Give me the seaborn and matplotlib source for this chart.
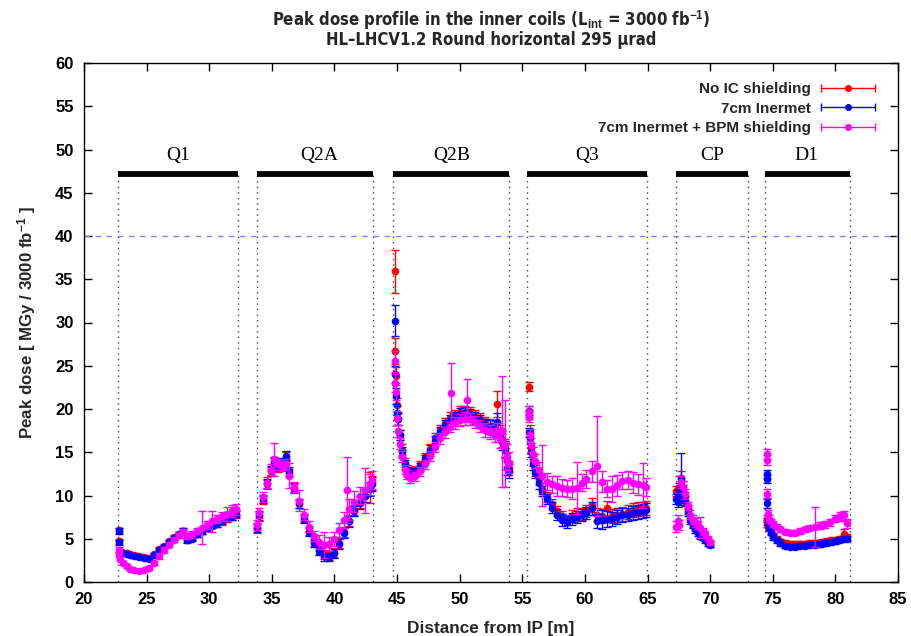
import numpy as np
import pandas as pd
import matplotlib
matplotlib.use("Agg")
import matplotlib.pyplot as plt
import seaborn as sns
from matplotlib import font_manager as fm
from matplotlib.container import ErrorbarContainer
from matplotlib.legend_handler import HandlerErrorbar

nan = np.nan

# ---------------- data ----------------
series_names = ["No IC shielding", "7cm Inermet", "7cm Inermet + BPM shielding"]
series_colors = ["#ff0000", "#0000ff", "#ff00ff"]

magnet_names = ["Q1", "Q2A", "Q2B", "Q3", "CP", "D1"]
magnet_start = [22.75, 33.8, 44.7, 55.4, 67.3, 74.4]
magnet_end = [32.3, 43.05, 53.9, 64.95, 73.0, 81.15]
magnet_label_x = [27.5, 38.8, 49.4, 60.2, 70.2, 77.7]

# Q1
x_q1 = [22.8, 22.8, 22.9, 23.1, 23.4, 23.7, 24.0, 24.4, 24.8, 25.2, 25.6, 26.0, 26.4, 26.8,
        27.2, 27.6, 27.9, 28.2, 28.6, 29.0, 29.4, 29.8, 30.2, 30.6, 31.0, 31.4, 31.8, 32.1]
red_q1 = [6.0, 4.7, 3.6, 3.4, 3.3, 3.2, 3.1, 3.0, 2.9, 2.8, 3.2, 3.8, 4.2, 4.7,
          5.2, 5.6, 5.9, 4.9, 5.1, 5.5, 5.9, 6.2, 6.5, 6.8, 7.0, 7.3, 7.6, 7.8]
blue_q1 = [5.9, 4.6, 3.5, 3.3, 3.2, 3.1, 3.0, 2.9, 2.8, 2.7, 3.1, 3.7, 4.1, 4.6,
           5.1, 5.6, 5.9, 4.8, 5.0, 5.5, 5.9, 6.2, 6.5, 6.8, 7.1, 7.4, 7.6, 7.9]
mag_q1 = [3.7, 3.2, 2.7, 2.2, 1.8, 1.5, 1.35, 1.3, 1.35, 1.6, 2.2, 3.0, 3.7, 4.3,
          4.9, 5.4, 5.8, 5.3, 5.5, 5.9, 6.3, 6.6, 7.0, 7.3, 7.6, 7.9, 8.2, 8.4]
red_e_q1 = [0.3, 0.3, 0.2, 0.2, 0.2, 0.2, 0.2, 0.2, 0.2, 0.2, 0.2, 0.2, 0.2, 0.2,
            0.2, 0.2, 0.3, 0.3, 0.3, 0.3, 0.3, 0.3, 0.3, 0.4, 0.4, 0.4, 0.4, 0.4]
blue_e_q1 = [0.3, 0.3, 0.2, 0.2, 0.2, 0.2, 0.2, 0.2, 0.2, 0.2, 0.2, 0.2, 0.2, 0.2,
             0.2, 0.2, 0.3, 0.3, 0.3, 0.3, 0.3, 0.3, 0.3, 0.4, 0.4, 0.4, 0.4, 0.4]
mag_e_q1 = [0.3, 0.3, 0.3, 0.2, 0.2, 0.2, 0.2, 0.2, 0.2, 0.2, 0.2, 0.3, 0.3, 0.3,
            0.3, 0.3, 0.3, 0.3, 0.4, 0.4, 1.9, 0.5, 1.2, 0.5, 0.5, 0.8, 0.7, 0.6]

# Q2A
x_q2a = [33.8, 34.0, 34.3, 34.6, 34.9, 35.2, 35.5, 35.8, 36.1, 36.4, 36.8, 37.2, 37.6, 38.0,
         38.4, 38.8, 39.2, 39.6, 40.0, 40.4, 40.8, 41.2, 41.6, 42.0, 42.4, 42.8, 43.0, 41.0]
red_q2a = [6.2, 7.6, 9.5, 11.3, 12.8, 13.8, 13.2, 13.7, 14.5, 12.6, 10.8, 9.0, 7.4, 5.9,
           4.7, 3.7, 3.2, 3.1, 3.4, 4.5, 5.8, 7.1, 8.3, 9.2, 10.0, 10.9, 11.4, nan]
blue_q2a = [6.3, 7.7, 9.6, 11.4, 12.9, 13.9, 13.3, 13.8, 14.6, 12.8, 10.9, 9.1, 7.3, 5.8,
            4.5, 3.6, 3.0, 2.9, 3.3, 4.4, 5.7, 7.0, 8.2, 9.1, 10.0, 10.8, 11.3, nan]
mag_q2a = [6.6, 8.0, 9.8, 11.5, 13.0, 14.2, 13.6, 13.4, 13.6, 12.3, 11.0, 9.4, 7.8, 6.4,
           5.3, 4.6, 4.3, 4.4, 5.0, 6.0, 7.2, 8.4, 9.3, 10.0, 10.6, 11.3, 11.8, 10.6]
red_e_q2a = [0.5, 0.5, 0.5, 0.5, 0.5, 0.5, 0.5, 0.5, 0.5, 0.5, 0.5, 0.5, 0.5, 0.5,
             0.5, 0.5, 0.5, 0.5, 0.5, 0.6, 0.6, 0.6, 0.6, 0.7, 0.7, 1.8, 0.8, nan]
blue_e_q2a = [0.5, 0.5, 0.5, 0.5, 0.5, 0.5, 0.5, 0.5, 0.5, 0.5, 0.5, 0.5, 0.5, 0.5,
              0.5, 0.5, 0.6, 0.5, 0.5, 0.6, 0.6, 0.6, 0.6, 0.7, 0.7, 0.8, 0.8, nan]
mag_e_q2a = [0.6, 0.6, 0.6, 0.6, 0.6, 1.9, 0.6, 0.6, 0.6, 1.4, 0.6, 1.2, 0.6, 0.6,
             0.6, 0.8, 1.5, 0.8, 0.8, 0.8, 0.9, 1.2, 1.2, 1.0, 2.6, 1.2, 1.0, 3.8]

# Q2B
x_q2b = [44.8, 44.85, 44.9, 45.0, 45.1, 45.25, 45.4, 45.6, 45.8, 46.0, 46.4, 46.8, 47.2, 47.6,
         48.0, 48.4, 48.8, 49.2, 49.6, 50.0, 50.4, 50.8, 51.2, 51.6, 52.0, 52.4, 52.8, 53.0,
         53.2, 53.4, 53.6, 53.8, 53.9, 49.3, 50.6]
red_q2b = [35.9, 26.7, 23.8, 20.5, 18.8, 17.0, 15.3, 13.8, 13.0, 12.8, 12.9, 13.5, 14.4, 15.4,
           16.6, 17.6, 18.4, 19.0, 19.3, 19.6, 19.7, 19.5, 19.2, 18.8, 18.4, 18.0, 17.8, 20.6,
           17.4, 16.5, 15.5, 14.0, 13.2, nan, nan]
blue_q2b = [30.2, 24.0, 21.5, 19.5, 18.8, 17.0, 15.0, 13.6, 12.8, 12.6, 12.7, 13.3, 14.2, 15.2,
            16.3, 17.3, 18.1, 18.7, 19.1, 19.4, 19.5, 19.3, 19.0, 18.6, 18.2, 17.9, 17.6, 18.5,
            17.0, 16.2, 15.3, 13.2, 12.8, nan, nan]
mag_q2b = [25.5, 23.0, 22.0, 19.0, 17.5, 16.0, 14.5, 13.0, 12.4, 12.0, 12.2, 12.8, 13.6, 14.6,
           15.6, 16.6, 17.3, 17.9, 18.4, 18.7, 18.9, 18.8, 18.5, 18.0, 17.6, 17.3, 17.0, 17.5,
           16.5, 17.4, 16.0, 14.5, 13.8, 21.8, 21.0]
red_e_q2b = [2.5, 1.5, 1.0, 0.8, 0.7, 0.6, 0.6, 0.5, 0.5, 0.5, 0.5, 0.5, 0.5, 0.6,
             0.6, 0.6, 0.6, 0.6, 0.6, 0.7, 0.7, 0.7, 0.7, 0.7, 0.7, 0.8, 0.8, 1.5,
             0.8, 0.9, 1.0, 0.9, 0.8, nan, nan]
blue_e_q2b = [1.8, 1.0, 0.9, 0.8, 0.7, 0.6, 0.6, 0.5, 0.5, 0.5, 0.5, 0.5, 0.5, 0.6,
              0.6, 0.6, 0.6, 0.6, 0.6, 0.7, 0.7, 0.7, 0.7, 0.7, 0.7, 0.8, 0.8, 1.0,
              0.8, 0.9, 1.0, 0.8, 0.8, nan, nan]
mag_e_q2b = [1.2, 1.0, 1.0, 0.8, 0.7, 0.6, 0.6, 0.5, 0.5, 0.5, 0.5, 0.5, 0.5, 0.6,
             0.6, 0.6, 0.6, 0.6, 0.7, 0.7, 0.7, 0.7, 0.7, 0.7, 0.8, 0.8, 0.8, 0.9,
             1.0, 6.4, 5.0, 1.5, 1.2, 3.5, 2.5]

# Q3
x_q3 = [55.5, 55.5, 55.6, 55.7, 55.85, 56.0, 56.3, 56.6, 57.0, 57.4, 57.8, 58.2, 58.6, 59.0,
        59.4, 59.8, 60.1, 60.6, 61.0, 61.4, 61.8, 62.2, 62.6, 63.0, 63.4, 63.8, 64.2, 64.6, 64.9]
red_q3 = [22.6, 19.4, 17.5, 15.5, 14.0, 12.9, 11.8, 10.8, 9.8, 9.0, 8.2, 7.6, 7.2, 7.6,
          7.8, 7.9, 8.2, 8.9, 7.8, 7.6, 8.5, 7.6, 7.7, 7.9, 8.1, 8.3, 8.4, 8.5, 8.6]
blue_q3 = [19.8, 17.3, 16.6, 15.0, 13.6, 12.6, 11.4, 10.5, 9.6, 8.6, 7.8, 7.2, 6.9, 7.3,
           7.5, 7.7, 8.0, 8.5, 7.1, 7.2, 7.3, 7.3, 7.5, 7.7, 7.8, 8.0, 8.1, 8.2, 8.3]
mag_q3 = [19.7, 19.1, 17.0, 15.8, 14.8, 14.0, 13.0, 12.3, 11.6, 11.3, 11.1, 10.9, 10.8, 10.8,
          10.9, 11.5, 11.9, 12.8, 13.4, 11.6, 10.8, 10.7, 11.2, 11.7, 11.8, 11.5, 11.3, 11.2, 11.0]
red_e_q3 = [0.5, 0.5, 0.6, 0.6, 0.6, 0.6, 0.6, 0.6, 0.6, 0.6, 0.6, 0.6, 0.6, 0.7,
            0.7, 0.7, 0.7, 0.8, 0.8, 0.8, 0.9, 0.8, 0.8, 0.8, 0.8, 0.8, 0.8, 0.8, 0.8]
blue_e_q3 = [0.5, 0.5, 0.6, 0.6, 0.6, 0.6, 0.6, 0.6, 0.6, 0.6, 0.6, 0.7, 0.7, 0.7,
             0.7, 0.7, 0.7, 0.8, 0.8, 1.1, 0.9, 0.8, 0.8, 0.8, 0.8, 0.8, 0.8, 0.8, 0.8]
mag_e_q3 = [0.6, 0.6, 0.7, 0.8, 0.8, 0.8, 0.9, 3.5, 1.0, 1.0, 1.2, 1.0, 1.0, 1.2,
            3.0, 1.0, 1.0, 1.2, 5.8, 1.2, 1.0, 1.5, 1.2, 1.0, 1.0, 1.2, 1.2, 2.6, 1.0]

# CP
x_cp = [67.3, 67.4, 67.55, 67.7, 67.85, 68.0, 68.2, 68.4, 68.6, 68.8, 69.0, 69.2, 69.4, 69.6, 69.8, 69.95]
red_cp = [10.5, 10.0, 11.0, 12.0, 11.0, 9.8, 8.4, 7.4, 6.8, 6.3, 5.9, 5.5, 5.2, 5.0, 4.7, 4.4]
blue_cp = [9.6, 9.3, 10.6, 11.9, 10.5, 9.4, 8.1, 7.2, 6.6, 6.1, 5.7, 5.4, 5.1, 4.8, 4.5, 4.3]
mag_cp = [6.4, 7.1, 6.6, 11.6, 11.0, 10.2, 8.8, 7.8, 7.2, 6.9, 6.6, 6.3, 5.9, 5.5, 5.0, 4.6]
red_e_cp = [0.6, 0.6, 1.2, 0.8, 0.7, 0.6, 0.5, 0.5, 0.4, 0.4, 0.4, 0.4, 0.3, 0.3, 0.3, 0.3]
blue_e_cp = [0.6, 0.6, 0.8, 3.0, 0.7, 0.6, 0.5, 0.5, 0.4, 0.4, 0.4, 0.4, 0.3, 0.3, 0.3, 0.3]
mag_e_cp = [0.6, 0.6, 0.6, 0.7, 0.7, 0.6, 0.5, 0.5, 0.5, 0.5, 0.5, 1.2, 0.4, 0.4, 0.3, 0.3]

# D1
x_d1 = [74.5, 74.5, 74.55, 74.6, 74.7, 74.85, 75.0, 75.3, 75.6, 76.0, 76.4, 76.8, 77.2, 77.6,
        78.0, 78.4, 78.8, 79.2, 79.6, 80.0, 80.4, 80.7, 80.95]
red_d1 = [7.3, 7.0, 6.8, 6.6, 6.2, 5.8, 5.4, 5.0, 4.7, 4.5, 4.4, 4.4, 4.4, 4.4,
          4.5, 4.5, 4.6, 4.7, 4.8, 4.9, 5.0, 5.6, 5.2]
blue_d1 = [12.5, 11.9, 9.1, 7.0, 6.3, 5.7, 5.2, 4.8, 4.5, 4.2, 4.1, 4.1, 4.2, 4.2,
           4.3, 4.3, 4.4, 4.5, 4.6, 4.7, 4.9, 5.0, 5.0]
mag_d1 = [14.8, 14.1, 10.2, 7.9, 7.3, 7.0, 6.7, 6.4, 6.1, 5.8, 5.7, 5.7, 5.9, 6.1,
          6.3, 6.4, 6.5, 6.7, 6.9, 7.3, 7.6, 7.7, 6.8]
red_e_d1 = [0.4, 0.4, 0.4, 0.4, 0.3, 0.3, 0.3, 0.3, 0.3, 0.3, 0.3, 0.3, 0.3, 0.3,
            0.3, 0.3, 0.3, 0.3, 0.3, 0.3, 0.3, 0.5, 0.4]
blue_e_d1 = [0.5, 0.5, 0.5, 0.4, 0.3, 0.3, 0.3, 0.3, 0.3, 0.3, 0.3, 0.3, 0.3, 0.3,
             0.3, 0.3, 0.3, 0.3, 0.3, 0.3, 0.3, 0.3, 0.3]
mag_e_d1 = [0.6, 0.6, 0.5, 0.4, 0.4, 0.3, 0.3, 0.3, 0.3, 0.3, 0.3, 0.3, 0.3, 0.3,
            0.3, 2.3, 0.4, 0.4, 0.4, 0.4, 0.5, 0.5, 0.5]

limit_line = 40
# ----------------------------------------------------------------

x_all = x_q1 + x_q2a + x_q2b + x_q3 + x_cp + x_d1
y_all = [red_q1 + red_q2a + red_q2b + red_q3 + red_cp + red_d1,
         blue_q1 + blue_q2a + blue_q2b + blue_q3 + blue_cp + blue_d1,
         mag_q1 + mag_q2a + mag_q2b + mag_q3 + mag_cp + mag_d1]
e_all = [red_e_q1 + red_e_q2a + red_e_q2b + red_e_q3 + red_e_cp + red_e_d1,
         blue_e_q1 + blue_e_q2a + blue_e_q2b + blue_e_q3 + blue_e_cp + blue_e_d1,
         mag_e_q1 + mag_e_q2a + mag_e_q2b + mag_e_q3 + mag_e_cp + mag_e_d1]

frames = []
for name, ys, es in zip(series_names, y_all, e_all):
    frames.append(pd.DataFrame({"x": x_all, "y": ys, "err": es, "series": name}))
df = pd.concat(frames, ignore_index=True)

sns.set_theme(style="ticks")
plt.rcParams["font.family"] = ["Liberation Sans", "DejaVu Sans"]
plt.rcParams["mathtext.fontset"] = "custom"
plt.rcParams["mathtext.rm"] = "Liberation Sans"
plt.rcParams["mathtext.bf"] = "Liberation Sans:bold"
plt.rcParams["mathtext.it"] = "Liberation Sans:italic"
plt.rcParams["mathtext.default"] = "bf"

# condensed face for the title if one is installed
fonts = fm.fontManager.ttflist
title_kw = {"family": ["Liberation Sans", "DejaVu Sans"], "fontsize": 12.5}
if any(f.name == "Liberation Sans Narrow" for f in fonts):
    title_kw = {"family": ["Liberation Sans Narrow", "DejaVu Sans"], "fontsize": 14}
elif any(f.name == "DejaVu Sans" and str(f.stretch) in ("condensed", "semi-condensed", "75", "87")
         for f in fonts):
    title_kw = {"family": ["DejaVu Sans"], "fontstretch": "condensed", "fontsize": 12}
serif_family = ["Liberation Serif", "DejaVu Serif"]

fig = plt.figure(figsize=(9.11, 6.36), dpi=100)
ax = fig.add_axes([84 / 911, 1 - 582 / 636, 814 / 911, 519 / 636])

for i, (name, col) in enumerate(zip(series_names, series_colors)):
    sub = df[df["series"] == name].dropna(subset=["y"])
    ax.errorbar(sub["x"], sub["y"], yerr=sub["err"], fmt="none", ecolor=col,
                elinewidth=1.0, capsize=3, capthick=1.0, zorder=3 + i)
    sns.scatterplot(data=sub, x="x", y="y", color=col, s=30, linewidth=0,
                    ax=ax, zorder=3.5 + i, legend=False)

# magnet layout
bar_y = 47.15
label_y = 49.3
n_mag = len(magnet_names)
ax.vlines(magnet_start + magnet_end, 0, bar_y, colors="#444444",
          linestyles=(0, (1, 3)), linewidth=1.0, zorder=1)
ax.hlines(np.full(n_mag, bar_y), magnet_start, magnet_end, colors="black", linewidth=4.2,
          capstyle="butt", zorder=2)
for nm, lx in zip(magnet_names, magnet_label_x):
    ax.text(lx, label_y, nm, ha="center", va="center", family=serif_family,
            fontsize=14, color="black")
ax.axhline(limit_line, color="#7f7fff", linestyle=(0, (4, 4)), linewidth=1.0, zorder=1)

ax.set_xlim(20, 85)
ax.set_ylim(0, 60)
ax.set_xticks(np.arange(20, 86, 5))
ax.set_yticks(np.arange(0, 61, 5))
ax.tick_params(direction="in", top=True, right=True, length=6, width=1,
               labelsize=12, pad=7.5, colors="black")
for lab in ax.get_xticklabels() + ax.get_yticklabels():
    lab.set_fontweight("bold")
for sp in ax.spines.values():
    sp.set_visible(True)
    sp.set_color("black")
    sp.set_linewidth(1.0)

ax.set_xlabel("Distance from IP [m]", fontweight="bold", fontsize=12.4, labelpad=10)
ax.set_ylabel("Peak dose [ MGy / 3000 fb$^{-1}$ ]", fontweight="bold", fontsize=12.2,
              labelpad=12)
ax.set_title("Peak dose profile in the inner coils (L$_{int}$ = 3000 fb$^{-1}$)\n"
             "HL\u2013LHCV1.2 Round horizontal 295 \u03bcrad",
             fontweight="bold", linespacing=0.9, pad=13, **title_kw)

# legend with horizontal error-bar keys (gnuplot style)
handles = []
for name, col in zip(series_names, series_colors):
    h = ax.errorbar([nan], [nan], xerr=[1.0], fmt="o", color=col, ms=4,
                    capsize=3, elinewidth=1.0, capthick=1.0, label=name)
    handles.append(h)
ax.set_xlim(20, 85)
ax.set_ylim(0, 60)
ax.legend(handles=handles, handler_map={ErrorbarContainer: HandlerErrorbar(xerr_size=1.75)},
          loc="upper right", bbox_to_anchor=(0.979, 0.975), borderaxespad=0,
          frameon=False, markerfirst=False, handlelength=3.5, handletextpad=0.7,
          labelspacing=0.36, prop={"weight": "bold", "size": 11})

fig.savefig("out.png", dpi=100)
